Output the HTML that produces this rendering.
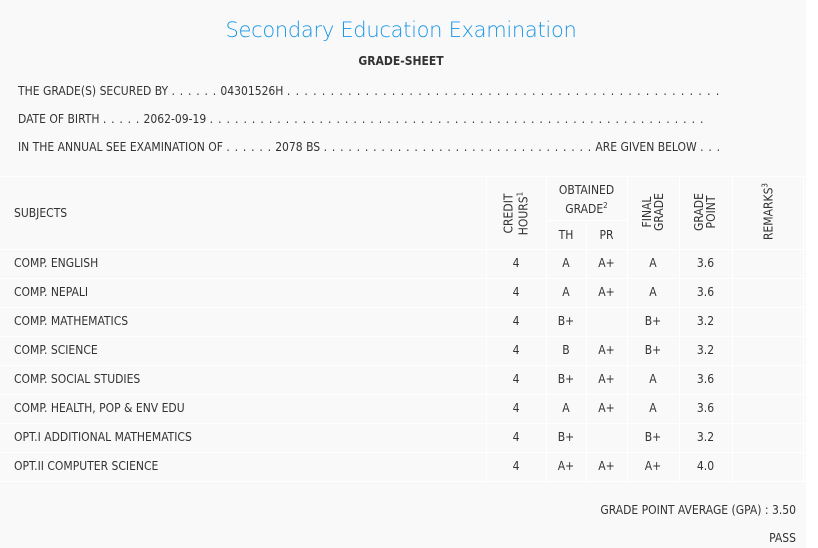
<!DOCTYPE html>
<html><head><meta charset="utf-8"><style>
body{margin:0;width:818px;height:548px;background:#fff;font-family:"DejaVu Sans Condensed","Liberation Sans",sans-serif;color:#333;font-size:12px;position:relative;overflow:hidden}
#p{position:absolute;left:0;top:0;width:806px;height:548px;background:#f9f9f9}
.a{position:absolute;white-space:nowrap}
.d{letter-spacing:0.7px}
.d2{letter-spacing:0.95px}
.d3{letter-spacing:0.8px}
.h{position:absolute;height:1px;background:#fff;left:0;width:806px}
.v{position:absolute;width:1px;background:#fff;top:176px;height:305px}
.c{position:absolute;text-align:center}
.r{position:absolute;transform:rotate(-90deg);text-align:center;line-height:12px;white-space:nowrap}
sup{font-size:8px}
</style></head><body><div id="p">
<div class="a" style="left:0;width:802px;text-align:center;top:18px;font-size:21px;color:#1a96e6;font-family:'DejaVu Sans','Liberation Sans',sans-serif;font-weight:300;letter-spacing:-0.3px">Secondary Education Examination</div>
<div class="a" style="left:0;width:802px;text-align:center;top:54px;font-weight:bold;font-size:12px">GRADE-SHEET</div>
<div class="a" style="left:18px;top:84px">THE GRADE(S) SECURED BY <span class="d">. . . . . .</span> 04301526H <span class="d2">. . . . . . . . . . . . . . . . . . . . . . . . . . . . . . . . . . . . . . . . . . . . . . . . . .</span></div>
<div class="a" style="left:18px;top:112px">DATE OF BIRTH <span class="d">. . . . .</span> 2062-09-19 <span class="d3">. . . . . . . . . . . . . . . . . . . . . . . . . . . . . . . . . . . . . . . . . . . . . . . . . . . . . . . . . . .</span></div>
<div class="a" style="left:18px;top:140px">IN THE ANNUAL SEE EXAMINATION OF <span class="d">. . . . . .</span> 2078 BS <span class="d">. . . . . . . . . . . . . . . . . . . . . . . . . . . . . . . . .</span> ARE GIVEN BELOW <span class="d">. . .</span></div>
<div class="h" style="top:176px"></div>
<div class="h" style="top:220px;left:546px;width:81px"></div>
<div class="h" style="top:249px"></div><div class="h" style="top:278px"></div><div class="h" style="top:307px"></div><div class="h" style="top:336px"></div><div class="h" style="top:365px"></div><div class="h" style="top:394px"></div><div class="h" style="top:423px"></div><div class="h" style="top:452px"></div><div class="h" style="top:481px"></div>
<div class="v" style="left:486px"></div><div class="v" style="left:546px"></div><div class="v" style="left:586px;top:220px;height:261px"></div><div class="v" style="left:627px"></div><div class="v" style="left:679px"></div><div class="v" style="left:732px"></div><div class="v" style="left:803px"></div>
<div class="a" style="left:14px;top:206px">SUBJECTS</div>
<div class="r" style="left:486px;top:200px;width:60px">CREDIT<br>HOURS<sup>1</sup></div>
<div class="c" style="left:546px;top:182px;width:81px;line-height:16px">OBTAINED<br>GRADE<sup>2</sup></div>
<div class="c" style="left:546px;top:228px;width:40px">TH</div><div class="c" style="left:586px;top:228px;width:41px">PR</div>
<div class="r" style="left:623px;top:200px;width:60px">FINAL<br>GRADE</div>
<div class="r" style="left:675px;top:200px;width:60px">GRADE<br>POINT</div>
<div class="r" style="left:727px;top:204px;width:80px">REMARKS<sup>3</sup></div>
<div id="rows"></div>
<div class="a" style="right:10px;top:503px">GRADE POINT AVERAGE (GPA) : 3.50</div>
<div class="a" style="right:10px;top:531px">PASS</div>
</div>
<script>
var d=[["COMP. ENGLISH","A","A+","A","3.6"],["COMP. NEPALI","A","A+","A","3.6"],["COMP. MATHEMATICS","B+","","B+","3.2"],["COMP. SCIENCE","B","A+","B+","3.2"],["COMP. SOCIAL STUDIES","B+","A+","A","3.6"],["COMP. HEALTH, POP &amp; ENV EDU","A","A+","A","3.6"],["OPT.I ADDITIONAL MATHEMATICS","B+","","B+","3.2"],["OPT.II COMPUTER SCIENCE","A+","A+","A+","4.0"]];
var h="";d.forEach(function(r,i){var t=256+i*29;
h+='<div class="a" style="left:14px;top:'+t+'px">'+r[0]+'</div><div class="c" style="left:486px;width:60px;top:'+t+'px">4</div><div class="c" style="left:546px;width:40px;top:'+t+'px">'+r[1]+'</div><div class="c" style="left:586px;width:41px;top:'+t+'px">'+r[2]+'</div><div class="c" style="left:627px;width:52px;top:'+t+'px">'+r[3]+'</div><div class="c" style="left:679px;width:53px;top:'+t+'px">'+r[4]+'</div>';});
document.getElementById("rows").innerHTML=h;
</script>
</body></html>
